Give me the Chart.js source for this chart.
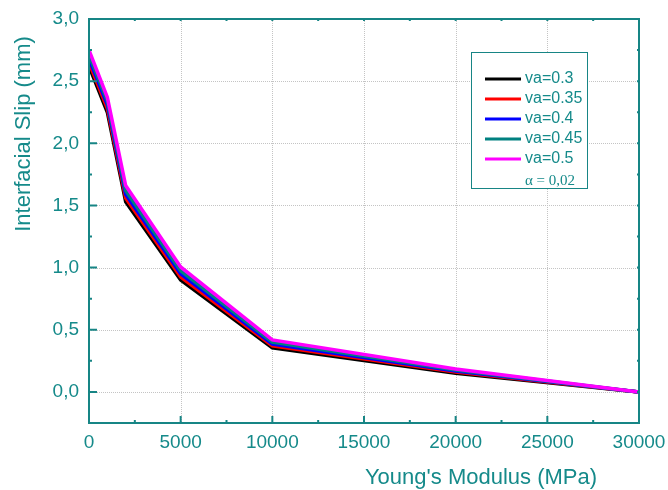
<!DOCTYPE html>
<html>
<head>
<meta charset="utf-8">
<script src="https://cdn.jsdelivr.net/npm/chart.js@4"></script>
<style>
  html, body { margin: 0; padding: 0; background: #fff; }
  #wrap { width: 668px; height: 490px; }
</style>
</head>
<body>
<div id="wrap"><canvas id="slipChart" width="668" height="490"></canvas></div>
<script>
// Data
const modulus = [0, 1000, 2000, 5000, 10000, 20000, 30000];
const seriesNames = ['va=0.3', 'va=0.35', 'va=0.4', 'va=0.45', 'va=0.5'];
const slip03 = [2.62, 2.25, 1.53, 0.90, 0.355, 0.150, 0];
const slip035 = [2.65, 2.28, 1.56, 0.925, 0.370, 0.160, 0];
const slip04 = [2.68, 2.31, 1.59, 0.950, 0.385, 0.168, 0];
const slip045 = [2.71, 2.34, 1.62, 0.975, 0.400, 0.176, 0];
const slip05 = [2.75, 2.37, 1.66, 1.005, 0.418, 0.185, 0];
const colors = ['#000000', '#ff0000', '#0000ff', '#008080', '#ff00ff'];
const xTicks = [0, 5000, 10000, 15000, 20000, 25000, 30000];
const yTicks = [0, 0.5, 1.0, 1.5, 2.0, 2.5, 3.0];
const alphaNote = 'α = 0,02';

const teal = '#178585';
const textTeal = '#158a8a';
const font = "'Liberation Sans', Arial, sans-serif";

const allSlip = [slip03, slip035, slip04, slip045, slip05];

// frame, dotted grid, inward ticks, titles and legend box
const framePlugin = {
  id: 'frame',
  beforeDatasetsDraw(chart) {
    const { ctx, chartArea: a, scales: { x, y } } = chart;
    ctx.save();
    ctx.strokeStyle = '#c4c4c4';
    ctx.lineWidth = 1;
    ctx.setLineDash([1, 1]);
    xTicks.slice(1, -1).forEach(v => {
      const px = Math.round(x.getPixelForValue(v)) + 0.5;
      ctx.beginPath(); ctx.moveTo(px, a.top); ctx.lineTo(px, a.bottom); ctx.stroke();
    });
    yTicks.slice(0, -1).forEach(v => {
      const py = Math.round(y.getPixelForValue(v)) + 0.5;
      ctx.beginPath(); ctx.moveTo(a.left, py); ctx.lineTo(a.right, py); ctx.stroke();
    });
    ctx.restore();
  },
  afterDatasetsDraw(chart) {
    const { ctx, chartArea: a, scales: { x, y } } = chart;
    ctx.save();
    ctx.strokeStyle = teal;
    ctx.lineWidth = 2;
    ctx.strokeRect(a.left, a.top, a.right - a.left, a.bottom - a.top);

    // x ticks
    for (let v = 0; v <= 30000; v += 2500) {
      const px = x.getPixelForValue(v);
      const major = v % 5000 === 0;
      ctx.beginPath();
      ctx.moveTo(px, a.bottom); ctx.lineTo(px, a.bottom - (major ? 7 : 3));
      ctx.moveTo(px, a.top); ctx.lineTo(px, a.top + 2);
      ctx.stroke();
    }
    // y ticks
    for (let v = 0; v <= 3.0001; v += 0.25) {
      const py = y.getPixelForValue(v);
      const major = Math.abs(v * 2 - Math.round(v * 2)) < 1e-6;
      ctx.beginPath();
      ctx.moveTo(a.left, py); ctx.lineTo(a.left + (major ? 8 : 3), py);
      ctx.moveTo(a.right, py); ctx.lineTo(a.right - 2, py);
      ctx.stroke();
    }

    // axis titles
    ctx.fillStyle = textTeal;
    ctx.font = '22px ' + font;
    ctx.textAlign = 'center';
    ctx.textBaseline = 'middle';
    ctx.fillText("Young's Modulus (MPa)", 481, 478);
    ctx.translate(24, 134);
    ctx.rotate(-Math.PI / 2);
    ctx.fillText('Interfacial Slip (mm)', 0, 0);
    ctx.restore();

    // legend box
    ctx.save();
    ctx.fillStyle = '#ffffff';
    ctx.fillRect(471, 52, 116, 136);
    ctx.strokeStyle = teal;
    ctx.lineWidth = 1;
    ctx.strokeRect(471.5, 52.5, 116, 136);
    chart.data.datasets.forEach((ds, i) => {
      const ly = 79 + i * 20;
      ctx.strokeStyle = ds.borderColor;
      ctx.lineWidth = 3;
      ctx.beginPath(); ctx.moveTo(485, ly); ctx.lineTo(521, ly); ctx.stroke();
      ctx.fillStyle = textTeal;
      ctx.font = '16px ' + font;
      ctx.textAlign = 'left';
      ctx.textBaseline = 'middle';
      ctx.fillText(ds.label, 525, ly);
    });
    ctx.fillStyle = textTeal;
    ctx.font = "15px 'Liberation Serif', 'Times New Roman', serif";
    ctx.textAlign = 'left';
    ctx.textBaseline = 'middle';
    ctx.fillText(alphaNote, 525, 181);
    ctx.restore();
  }
};

const noPad = s => { s.paddingLeft = 0; s.paddingRight = 0; s.paddingTop = 0; s.paddingBottom = 0; };

const ctx = document.getElementById('slipChart').getContext('2d');
new Chart(ctx, {
  type: 'line',
  data: {
    datasets: seriesNames.map((name, i) => ({
      label: name,
      data: modulus.map((m, j) => ({ x: m, y: allSlip[i][j] })),
      borderColor: colors[i],
      backgroundColor: colors[i],
      borderWidth: 3.5,
      pointRadius: 0,
      tension: 0,
      order: seriesNames.length - i
    }))
  },
  options: {
    responsive: false,
    animation: false,
    layout: { autoPadding: false, padding: { top: 19, right: 29, left: 0, bottom: 0 } },
    plugins: { legend: { display: false }, tooltip: { enabled: false } },
    scales: {
      x: {
        type: 'linear',
        min: 0,
        max: 30000,
        grid: { display: false, drawTicks: false },
        border: { display: false },
        afterBuildTicks: s => { s.ticks = xTicks.map(v => ({ value: v })); },
        afterFit: s => { s.height = 67; noPad(s); },
        ticks: {
          color: textTeal,
          font: { family: font, size: 19 },
          padding: 8,
          maxRotation: 0,
          callback: v => String(v)
        }
      },
      y: {
        min: -0.25,
        max: 3.0,
        grid: { display: false, drawTicks: false },
        border: { display: false },
        afterBuildTicks: s => { s.ticks = yTicks.map(v => ({ value: v })); },
        afterFit: s => { s.width = 89; noPad(s); },
        ticks: {
          color: textTeal,
          font: { family: font, size: 19 },
          padding: 10,
          callback: v => v.toFixed(1).replace('.', ',')
        }
      }
    }
  },
  plugins: [framePlugin]
});
</script>
</body>
</html>
